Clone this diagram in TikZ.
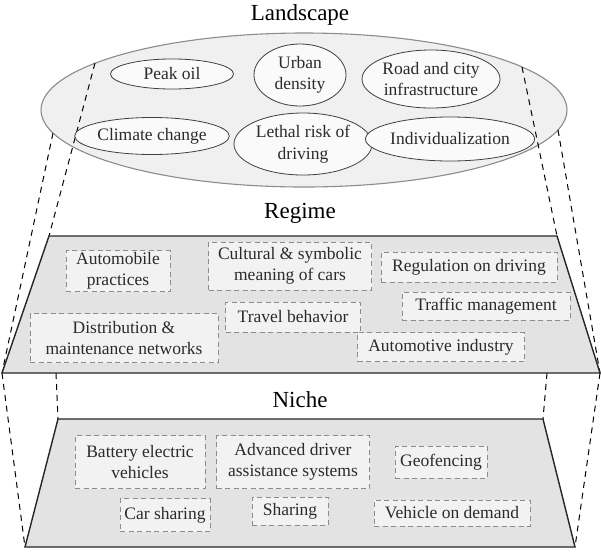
\documentclass[tikz,border=0pt]{standalone}
\usepackage{fontspec}
\setmainfont{Liberation Serif}
\usetikzlibrary{shapes.geometric}
\definecolor{txt}{HTML}{2B2B2B}
\begin{document}
\begin{tikzpicture}[x=1pt,y=-1pt,
  every node/.style={text=txt, font=\fontsize{17.5}{21.5}\selectfont, align=center, inner sep=0pt},
  title/.style={font=\fontsize{23}{26}\selectfont, text=black},
  outer/.style={ellipse, draw=black!45, line width=1.1pt, fill=black!6},
  oval/.style={ellipse, draw=black!75, line width=0.8pt, fill=black!2},
  layer/.style={draw=black!85, line width=1.4pt, fill=black!11},
  item/.style={rectangle, draw=black!45, dash pattern=on 5pt off 3.5pt, line width=0.8pt, fill=black!5},
  guide/.style={draw=black, line width=1pt, dash pattern=on 6pt off 5pt}]
\useasboundingbox (0,0) rectangle (601,552);

% titles
\node[title] (tland) at (300,15) {Landscape};
\node[title] (treg) at (300,213) {Regime};
\node[title] (tniche) at (300,400) {Niche};

% landscape ellipse
\node[outer, minimum width=526pt, minimum height=154pt] (land) at (304,110) {};

% corner points
\coordinate (lA) at (95,63);
\coordinate (lB) at (53,133);
\coordinate (rA) at (522,67);
\coordinate (rB) at (558,130);
\coordinate (rtl) at (49,236);
\coordinate (rtr) at (557,236);
\coordinate (rbr) at (600,373);
\coordinate (rbl) at (2,373);
\coordinate (rbi) at (56,373);
\coordinate (rbj) at (547,373);
\coordinate (ntl) at (58,419);
\coordinate (ntr) at (543,419);
\coordinate (nbr) at (575,547);
\coordinate (nbl) at (25,547);

% projection lines
\draw[guide] (lA) -- (rtl);
\draw[guide] (lB) -- (rbl);
\draw[guide] (rA) -- (rtr);
\draw[guide] (rB) -- (rbr);
\draw[guide] (rbi) -- (ntl);
\draw[guide] (rbl) -- (nbl);
\draw[guide] (rbj) -- (ntr);
\draw[guide] (rbr) -- (nbr);

% landscape factors
\node[oval, minimum width=123pt, minimum height=30pt] (peak) at (172,74) {Peak oil};
\node[oval, minimum width=92pt, minimum height=62pt] (urban) at (300,75) {Urban\\density};
\node[oval, minimum width=138pt, minimum height=58pt] (road) at (431,79) {Road and city\\infrastructure};
\node[oval, minimum width=143pt, minimum height=37pt] (climate) at (152,136) {Climate change};
\node[oval, minimum width=138pt, minimum height=62pt] (lethal) at (303,144) {Lethal risk of\\driving};
\node[oval, minimum width=154pt, minimum height=44pt] (indiv) at (450,139) {Individualization};

% regime layer
\draw[layer] (rtl) -- (rtr) -- (rbr) -- (rbl) -- cycle;
\node[item, minimum width=104pt, minimum height=41pt] (auto) at (118,271) {Automobile\\practices};
\node[item, minimum width=163pt, minimum height=48pt] (cult) at (290,266) {Cultural \& symbolic\\meaning of cars};
\node[item, minimum width=176pt, minimum height=30pt] (regul) at (469,267) {Regulation on driving};
\node[item, minimum width=168pt, minimum height=28pt] (traffic) at (486,306) {Traffic management};
\node[item, minimum width=135pt, minimum height=30pt] (travel) at (293,317) {Travel behavior};
\node[item, minimum width=188pt, minimum height=49pt] (distr) at (124,338) {Distribution \&\\maintenance networks};
\node[item, minimum width=167pt, minimum height=29pt] (autoind) at (441,347) {Automotive industry};

% niche layer
\draw[layer] (ntl) -- (ntr) -- (nbr) -- (nbl) -- cycle;
\node[item, minimum width=130pt, minimum height=53pt] (bev) at (140,462) {Battery electric\\vehicles};
\node[item, minimum width=153pt, minimum height=53pt] (adas) at (293,462) {Advanced driver\\assistance systems};
\node[item, minimum width=92pt, minimum height=32pt] (geo) at (441,462) {Geofencing};
\node[item, minimum width=90pt, minimum height=33pt] (carsh) at (165,515) {Car sharing};
\node[item, minimum width=76pt, minimum height=28pt] (sharing) at (290,511) {Sharing};
\node[item, minimum width=156pt, minimum height=26pt] (vod) at (452,513) {Vehicle on demand};
\end{tikzpicture}
\end{document}
